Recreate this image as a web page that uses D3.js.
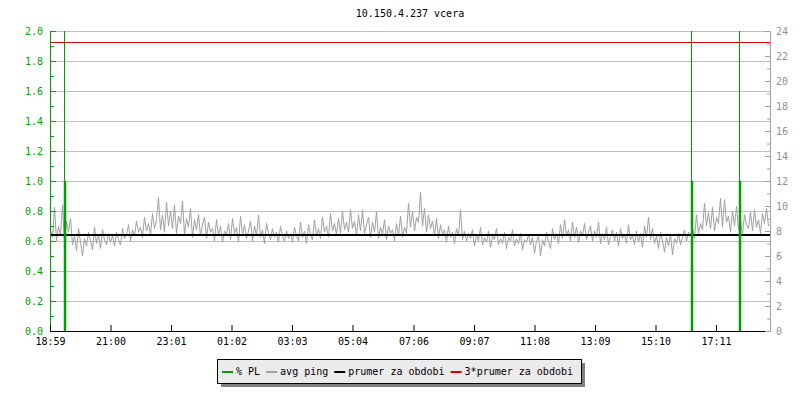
<!DOCTYPE html>
<html>
<head>
<meta charset="utf-8">
<script src="https://cdn.jsdelivr.net/npm/d3@7"></script>
<style>
  body { margin: 0; background: #fff; }
  svg text { font-family: "DejaVu Sans Mono", monospace; }
</style>
</head>
<body>
<div id="chart"></div>
<script>
// time axis (minutes from 18:59)
var tickMinutes = [0, 121, 242, 363, 484, 605, 727, 848, 969, 1090, 1211, 1332];
var tickLabels = ["18:59", "21:00", "23:01", "01:02", "03:03", "05:04", "07:06", "09:07", "11:08", "13:09", "15:10", "17:11"];

// avg ping [ms], one value every 4 minutes
var pingStep = 4;
var pingValues = [
  8.1, 7.5, 9.9, 7.2, 8.4, 7.6, 10.1, 7.0, 8.8, 7.9, 9.0, 6.9, 7.6, 6.4, 8.2, 7.1, 6.0, 7.4, 6.8, 7.9, 7.2, 6.5, 8.3, 7.0, 7.7, 6.6, 8.1, 7.3, 6.9, 7.8,
  7.1, 7.6, 6.8, 7.9, 7.3, 6.9, 8.2, 7.4, 7.7, 8.5, 7.2, 8.1, 7.6, 8.8, 7.9, 8.3, 7.5, 9.1, 8.0, 8.6, 7.7, 9.4, 8.2, 8.9, 10.7, 8.1, 9.3, 7.9, 10.3, 8.4,
  9.6, 8.2, 10.1, 7.8, 9.2, 8.6, 10.4, 7.7, 9.0, 8.3, 9.8, 7.5, 8.9, 8.1, 9.3, 7.6, 8.5, 9.1, 7.4, 8.7, 7.9, 8.2, 7.2, 8.9, 7.6, 8.4, 7.1, 8.0, 7.7, 8.6,
  7.3, 9.0, 7.8, 8.3, 7.1, 9.2, 7.7, 8.5, 7.4, 8.0, 8.8, 7.2, 8.4, 7.6, 9.3, 7.5, 8.1, 7.0, 8.6, 7.8, 7.3, 8.2, 7.5, 7.9, 7.1, 8.4, 7.6, 7.2, 8.0, 7.4,
  7.8, 7.1, 8.3, 7.6, 7.2, 8.7, 7.5, 8.0, 7.0, 8.5, 7.7, 7.3, 8.9, 7.6, 8.2, 7.4, 9.1, 7.9, 8.4, 7.5, 9.4, 8.0, 8.6, 7.7, 9.0, 7.8, 9.6, 8.1, 8.7, 7.9,
  9.7, 8.2, 8.8, 7.6, 9.3, 8.0, 9.7, 7.8, 8.5, 9.1, 7.5, 8.7, 7.9, 9.5, 7.4, 8.3, 7.7, 8.9, 7.3, 8.4, 7.8, 8.1, 7.2, 8.6, 7.6, 9.2, 7.5, 8.3, 7.8, 10.2,
  8.3, 9.6, 8.0, 9.1, 8.7, 11.1, 8.4, 9.8, 7.9, 9.3, 8.2, 8.8, 7.6, 9.0, 7.4, 8.5, 7.7, 8.1, 7.1, 8.4, 7.5, 7.9, 7.0, 8.2, 7.6, 9.7, 7.3, 8.0, 7.2, 7.8,
  7.4, 8.1, 6.8, 7.7, 7.2, 8.3, 6.9, 7.5, 7.1, 8.0, 6.7, 7.6, 7.3, 8.2, 6.9, 7.4, 7.0, 7.9, 6.6, 7.5, 7.2, 8.1, 6.8, 7.4, 7.0, 7.8, 6.5, 7.3, 7.1, 7.7,
  6.9, 7.5, 6.2, 7.2, 7.6, 6.0, 7.3, 6.8, 7.9, 7.1, 6.6, 8.2, 7.3, 7.8, 7.0, 8.5, 7.4, 8.9, 7.6, 8.1, 7.2, 8.7, 7.5, 8.3, 7.1, 8.0, 7.6, 8.6, 7.3, 7.9,
  8.4, 7.2, 8.0, 7.5, 8.7, 7.0, 7.8, 7.3, 8.3, 6.9, 7.6, 8.1, 7.2, 7.9, 6.8, 8.2, 7.4, 7.7, 7.0, 8.5, 7.3, 7.6, 6.9, 8.0, 7.1, 7.8, 6.7, 8.4, 7.5, 9.1,
  7.3, 8.2, 7.0, 7.6, 6.6, 7.9, 7.2, 6.3, 7.5, 6.8, 7.7, 6.1, 7.4, 7.0, 7.8, 6.9, 7.5, 8.1, 7.2, 7.9, 7.6, 8.3, 7.4, 9.3, 7.8, 8.6, 8.1, 10.2, 8.4, 9.5,
  8.2, 9.9, 8.0, 9.1, 8.6, 10.6, 8.3, 10.5, 8.7, 9.2, 7.9, 9.6, 8.4, 10.0, 8.1, 8.8, 7.7, 9.3, 8.5, 8.2, 9.5, 8.0, 9.7, 8.3, 8.9, 7.8, 9.4, 8.6, 9.8, 8.4
];

// packet loss events
var plMinutes = [28, 1282, 1378];
var plValues = [1.0, 1.0, 1.0];

// mean of the period [ms]
var meanPing = 7.7;

var legendLabels = ["% PL", "avg ping", "prumer za obdobi", "3*prumer za obdobi"];
var legendColors = ["#00a000", "#a0a0a0", "#000000", "#e00000"];

var svgWidth = 800, svgHeight = 400;
var margin = {top: 31, right: 30, bottom: 69, left: 50},
    width = svgWidth - margin.left - margin.right,
    height = svgHeight - margin.top - margin.bottom;

var svg = d3.select("#chart").append("svg")
    .attr("width", svgWidth)
    .attr("height", svgHeight);

var g = svg.append("g")
    .attr("transform", "translate(" + margin.left + "," + margin.top + ")");

var x = d3.scaleLinear().domain([0, 1440]).range([0, width]);
var yL = d3.scaleLinear().domain([0, 2]).range([height, 0]);
var yR = d3.scaleLinear().domain([0, 24]).range([height, 0]);

// title
svg.append("text")
    .attr("x", margin.left + width / 2)
    .attr("y", 17)
    .attr("text-anchor", "middle")
    .style("font-size", "10px")
    .text("10.150.4.237 vcera");

// horizontal grid
g.selectAll(".grid")
    .data(d3.range(1, 11).map(function(i) { return i * 0.2; }))
    .enter().append("line")
    .attr("x1", 0).attr("x2", width)
    .attr("y1", function(d) { return Math.round(yL(d)) + 0.5; })
    .attr("y2", function(d) { return Math.round(yL(d)) + 0.5; })
    .style("stroke", "#c0c0c0");

g.append("clipPath").attr("id", "clip")
  .append("rect").attr("width", width).attr("height", height);

var plot = g.append("g").attr("clip-path", "url(#clip)");

// avg ping
var pingLine = d3.line()
    .x(function(d, i) { return x(i * pingStep) + 0.5; })
    .y(function(d) { return yR(d); });

plot.append("path")
    .datum(pingValues)
    .attr("d", pingLine)
    .style("fill", "none")
    .style("stroke", "#a0a0a0")
    .style("stroke-width", 1);

// mean and 3*mean
plot.append("line")
    .attr("x1", 0).attr("x2", width)
    .attr("y1", Math.round(yR(meanPing))).attr("y2", Math.round(yR(meanPing)))
    .style("stroke", "#000").style("stroke-width", 2);

plot.append("line")
    .attr("x1", 0).attr("x2", width)
    .attr("y1", Math.round(yR(3 * meanPing)) + 0.5).attr("y2", Math.round(yR(3 * meanPing)) + 0.5)
    .style("stroke", "#e00000").style("stroke-width", 1);

// packet loss
plMinutes.forEach(function(m, i) {
  var px = Math.round(x(m)) + 0.5;
  plot.append("line")
      .attr("x1", px).attr("x2", px)
      .attr("y1", height).attr("y2", 0)
      .style("stroke", "#00a000").style("stroke-width", 1);
  plot.append("line")
      .attr("x1", px + 0.5).attr("x2", px + 0.5)
      .attr("y1", height).attr("y2", yL(plValues[i]))
      .style("stroke", "#00a000").style("stroke-width", 2.5);
});

// left axis
var leftAxis = d3.axisLeft(yL)
    .tickValues(d3.range(0, 11).map(function(i) { return i * 0.2; }))
    .tickFormat(d3.format(".1f"))
    .tickSizeInner(-6).tickSizeOuter(0).tickPadding(7);
var la = g.append("g").attr("class", "axis-left").call(leftAxis);
la.selectAll("path, line").style("stroke", "#00a000");
la.selectAll("text").style("fill", "#00a000").style("font-size", "10px");

var leftMinor = d3.axisLeft(yL)
    .tickValues(d3.range(0, 10).map(function(i) { return i * 0.2 + 0.1; }))
    .tickFormat("").tickSizeInner(-4).tickSizeOuter(0);
g.append("g").call(leftMinor)
  .selectAll("path, line").style("stroke", "#00a000");

// right axis
var rightAxis = d3.axisRight(yR)
    .tickValues(d3.range(0, 25, 2))
    .tickSizeInner(-5).tickSizeOuter(0).tickPadding(6);
var ra = g.append("g").attr("transform", "translate(" + width + ",0)").call(rightAxis);
ra.selectAll("path, line").style("stroke", "#a0a0a0");
ra.selectAll("text").style("fill", "#909090").style("font-size", "10px");

var rightMinor = d3.axisRight(yR)
    .tickValues(d3.range(1, 24, 2))
    .tickFormat("").tickSizeInner(-3).tickSizeOuter(0);
g.append("g").attr("transform", "translate(" + width + ",0)").call(rightMinor)
  .selectAll("path, line").style("stroke", "#a0a0a0");

// bottom axis
var bottomAxis = d3.axisBottom(x)
    .tickValues(tickMinutes)
    .tickFormat(function(d, i) { return tickLabels[i]; })
    .tickSizeInner(-6).tickSizeOuter(0).tickPadding(7);
var ba = g.append("g").attr("transform", "translate(0," + height + ")").call(bottomAxis);
ba.select(".domain").attr("d", "M0,0.5H" + (width - 5));
ba.selectAll("path, line").style("stroke", "#000");
ba.selectAll("text").style("fill", "#000").style("font-size", "10px");

// legend
var lgX = 217, lgY = 359, lgW = 364, lgH = 24;
svg.append("rect")
    .attr("x", lgX + 4).attr("y", lgY + 4).attr("width", lgW).attr("height", lgH)
    .style("fill", "#808080");
svg.append("rect")
    .attr("x", lgX + 0.5).attr("y", lgY + 0.5).attr("width", lgW).attr("height", lgH)
    .style("fill", "#ebebeb").style("stroke", "#000");

var cx = lgX + 5;
legendLabels.forEach(function(label, i) {
  svg.append("line")
      .attr("x1", cx).attr("x2", cx + 11)
      .attr("y1", lgY + 13).attr("y2", lgY + 13)
      .style("stroke", legendColors[i]).style("stroke-width", 2);
  var t = svg.append("text")
      .attr("x", cx + 14).attr("y", lgY + 16)
      .style("font-size", "10px")
      .text(label);
  cx += 14 + t.node().getComputedTextLength() + 6;
});
</script>
</body>
</html>
